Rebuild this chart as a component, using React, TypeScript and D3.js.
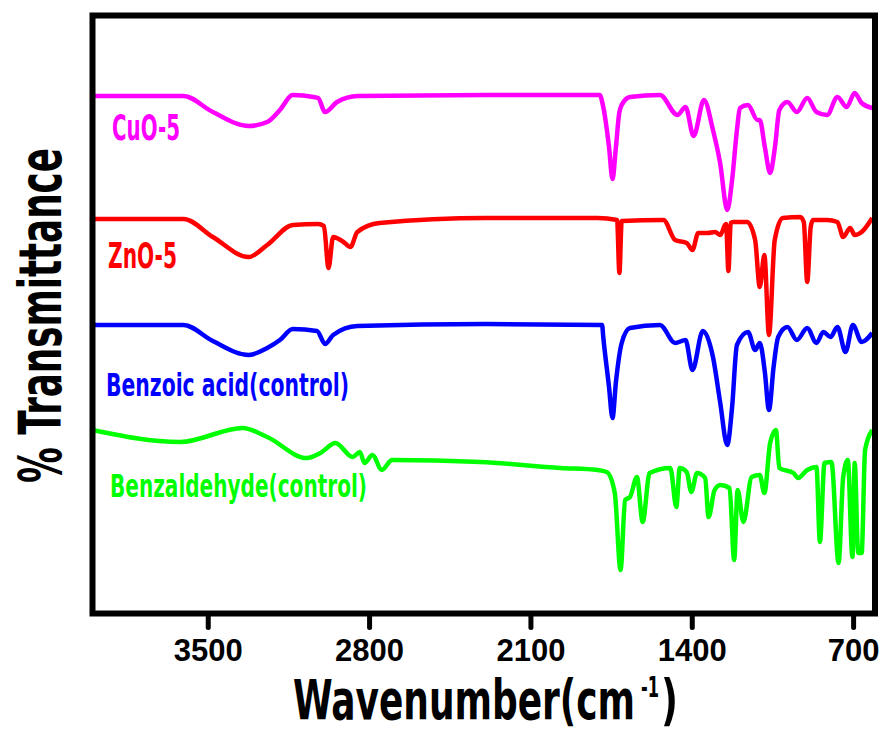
import { useEffect, useRef } from "react";
import { select, scaleLinear, axisBottom, line, curveMonotoneX } from "d3";

// tick labels on the wavenumber axis
const xTicks = [3500, 2800, 2100, 1400, 700];

// wavenumber (cm-1) / transmittance (offset, arbitrary units)
const cuoWn = [4000, 3605, 3478, 3323, 3242, 3187, 3131, 3041, 3021, 2991, 2939, 2850, 2292, 1799, 1784, 1759, 1744, 1729, 1714, 1699, 1668, 1538, 1462, 1427, 1392, 1347, 1308, 1277, 1246, 1225, 1204, 1191, 1156, 1115, 1105, 1083, 1060, 1039, 1020, 985, 944, 899, 859, 813, 768, 728, 693, 663, 617];
const cuoT = [511, 511, 495, 481, 485, 497, 512, 510, 509, 495, 505, 511, 512, 512, 500, 460, 428, 460, 495, 504, 510, 512, 492, 500, 471, 507, 477, 444, 397, 427, 477, 499, 502, 487, 487, 460, 434, 460, 497, 505, 495, 509, 495, 492, 510, 500, 514, 504, 499];

const znoWn = [4000, 3605, 3478, 3323, 3242, 3131, 3021, 2996, 2976, 2956, 2911, 2881, 2851, 2755, 2292, 1809, 1724, 1714, 1704, 1523, 1472, 1422, 1397, 1372, 1332, 1299, 1276, 1256, 1251, 1241, 1231, 1221, 1160, 1125, 1105, 1085, 1065, 1040, 1005, 929, 914, 899, 884, 874, 813, 768, 743, 713, 693, 663, 617];
const znoT = [388, 388, 370, 350, 362, 382, 383, 381, 339, 370, 365, 360, 375, 384, 389, 389, 387, 334, 386, 387, 367, 364, 357, 374, 374, 375, 372, 382, 383, 336, 384, 385, 385, 367, 320, 352, 272, 367, 389, 390, 385, 325, 380, 387, 387, 385, 370, 379, 372, 375, 389];

const benzoicWn = [4000, 3605, 3478, 3323, 3242, 3187, 3131, 3026, 2991, 2956, 2851, 2292, 1789, 1784, 1759, 1744, 1729, 1704, 1668, 1538, 1472, 1427, 1397, 1352, 1308, 1277, 1246, 1225, 1204, 1156, 1125, 1105, 1083, 1065, 1045, 1025, 985, 944, 899, 859, 829, 798, 768, 733, 701, 663, 617];
const benzoicT = [282, 282, 266, 252, 259, 267, 278, 276, 263, 272, 281, 283, 282, 270, 220, 189, 225, 264, 279, 282, 264, 267, 237, 276, 250, 205, 162, 200, 262, 275, 257, 264, 235, 197, 240, 270, 280, 267, 279, 264, 275, 270, 280, 255, 282, 265, 274];

const benzaldehydeWn = [4000, 3620, 3348, 3242, 3071, 3011, 2946, 2871, 2840, 2820, 2785, 2745, 2700, 2317, 1970, 1809, 1769, 1734, 1709, 1689, 1668, 1638, 1613, 1583, 1493, 1467, 1452, 1422, 1402, 1377, 1342, 1327, 1301, 1276, 1236, 1216, 1201, 1176, 1140, 1105, 1085, 1060, 1035, 1020, 959, 939, 899, 859, 844, 824, 794, 763, 743, 723, 703, 693, 678, 663, 648, 617];
const benzaldehydeT = [177, 165, 179, 170, 149, 154, 164, 150, 155, 144, 152, 137, 147, 145, 139, 137, 135, 114, 37, 107, 110, 130, 85, 134, 139, 100, 139, 135, 115, 134, 129, 90, 117, 122, 119, 47, 117, 85, 130, 132, 114, 164, 177, 139, 134, 129, 137, 140, 65, 144, 145, 44, 130, 147, 50, 144, 54, 54, 157, 177];

const seriesNames = ["CuO-5", "ZnO-5", "Benzoic acid(control)", "Benzaldehyde(control)"];
const seriesColors = ["#ff00ff", "#ff0000", "#0000ff", "#00ff00"];

const W = 881;
const H = 732;
const frame = { left: 92.5, right: 875, top: 15.5, bottom: 613.5 };
const condensed = "'Liberation Sans Narrow', 'DejaVu Sans Condensed', 'Arial Narrow', sans-serif";

function App() {
  const svgRef = useRef<SVGSVGElement>(null);

  useEffect(() => {
    const svg = select(svgRef.current);
    svg.selectAll("*").remove();

    const xScale = scaleLinear().domain([4000, 605]).range([frame.left, frame.right]);
    const yScale = scaleLinear().domain([0, 600]).range([607, 7]);

    const all = [
      { wn: cuoWn, t: cuoT },
      { wn: znoWn, t: znoT },
      { wn: benzoicWn, t: benzoicT },
      { wn: benzaldehydeWn, t: benzaldehydeT },
    ];

    svg.append("defs")
      .append("clipPath")
      .attr("id", "plotClip")
      .append("rect")
      .attr("x", frame.left)
      .attr("y", frame.top)
      .attr("width", frame.right - frame.left)
      .attr("height", frame.bottom - frame.top);

    const lineGen = line<[number, number]>()
      .x((d) => xScale(d[0]))
      .y((d) => yScale(d[1]))
      .curve(curveMonotoneX);

    const plot = svg.append("g").attr("clip-path", "url(#plotClip)");
    all.forEach((s, i) => {
      const pts = s.wn.map((w, j) => [w, s.t[j]] as [number, number]);
      plot.append("path")
        .attr("d", lineGen(pts))
        .attr("fill", "none")
        .attr("stroke", seriesColors[i])
        .attr("stroke-width", 4.5)
        .attr("stroke-linejoin", "round");
    });

    // series labels
    const labelPos = [
      { x: 112, y: 140, len: 68, size: 35 },
      { x: 108, y: 268, len: 69, size: 35 },
      { x: 106, y: 396, len: 243, size: 32 },
      { x: 110, y: 497, len: 257, size: 32 },
    ];
    seriesNames.forEach((name, i) => {
      svg.append("text")
        .attr("x", labelPos[i].x)
        .attr("y", labelPos[i].y)
        .attr("fill", seriesColors[i])
        .attr("font-family", condensed)
        .attr("font-weight", "bold")
        .attr("font-size", labelPos[i].size)
        .attr("textLength", labelPos[i].len)
        .attr("lengthAdjust", "spacingAndGlyphs")
        .text(name);
    });

    // frame
    svg.append("rect")
      .attr("x", frame.left)
      .attr("y", frame.top)
      .attr("width", frame.right - frame.left)
      .attr("height", frame.bottom - frame.top)
      .attr("fill", "none")
      .attr("stroke", "#000")
      .attr("stroke-width", 6);

    // x axis
    const xAxis = axisBottom(xScale)
      .tickValues(xTicks)
      .tickSize(14)
      .tickPadding(11)
      .tickFormat((d) => String(d));

    const gx = svg.append("g")
      .attr("transform", `translate(0, ${frame.bottom})`)
      .call(xAxis);
    gx.select(".domain").remove();
    gx.selectAll(".tick line")
      .attr("stroke", "#000")
      .attr("stroke-width", 5)
      .attr("stroke-linecap", "round");
    gx.selectAll(".tick text")
      .attr("fill", "#000")
      .attr("font-family", "'Liberation Sans', Arial, sans-serif")
      .attr("font-weight", "bold")
      .attr("font-size", 31);

    // axis titles
    const title = svg.append("g")
      .attr("font-family", condensed)
      .attr("font-weight", "bold")
      .attr("fill", "#000");
    title.append("text")
      .attr("x", 293)
      .attr("y", 719)
      .attr("font-size", 56)
      .attr("textLength", 342)
      .attr("lengthAdjust", "spacingAndGlyphs")
      .text("Wavenumber(cm");
    title.append("text")
      .attr("x", 641)
      .attr("y", 697)
      .attr("font-size", 28)
      .attr("textLength", 18)
      .attr("lengthAdjust", "spacingAndGlyphs")
      .text("-1");
    title.append("text")
      .attr("x", 661)
      .attr("y", 719)
      .attr("font-size", 56)
      .attr("textLength", 17)
      .attr("lengthAdjust", "spacingAndGlyphs")
      .text(")");
    title.append("text")
      .attr("transform", "translate(61, 483) rotate(-90)")
      .attr("x", 0)
      .attr("y", 0)
      .attr("font-size", 58)
      .attr("textLength", 335)
      .attr("lengthAdjust", "spacingAndGlyphs")
      .text("% Transmittance");
  }, []);

  return (
    <svg
      ref={svgRef}
      width={W}
      height={H}
      style={{ position: "absolute", left: 0, top: 0, background: "#fff" }}
    ></svg>
  );
}

export default App;
